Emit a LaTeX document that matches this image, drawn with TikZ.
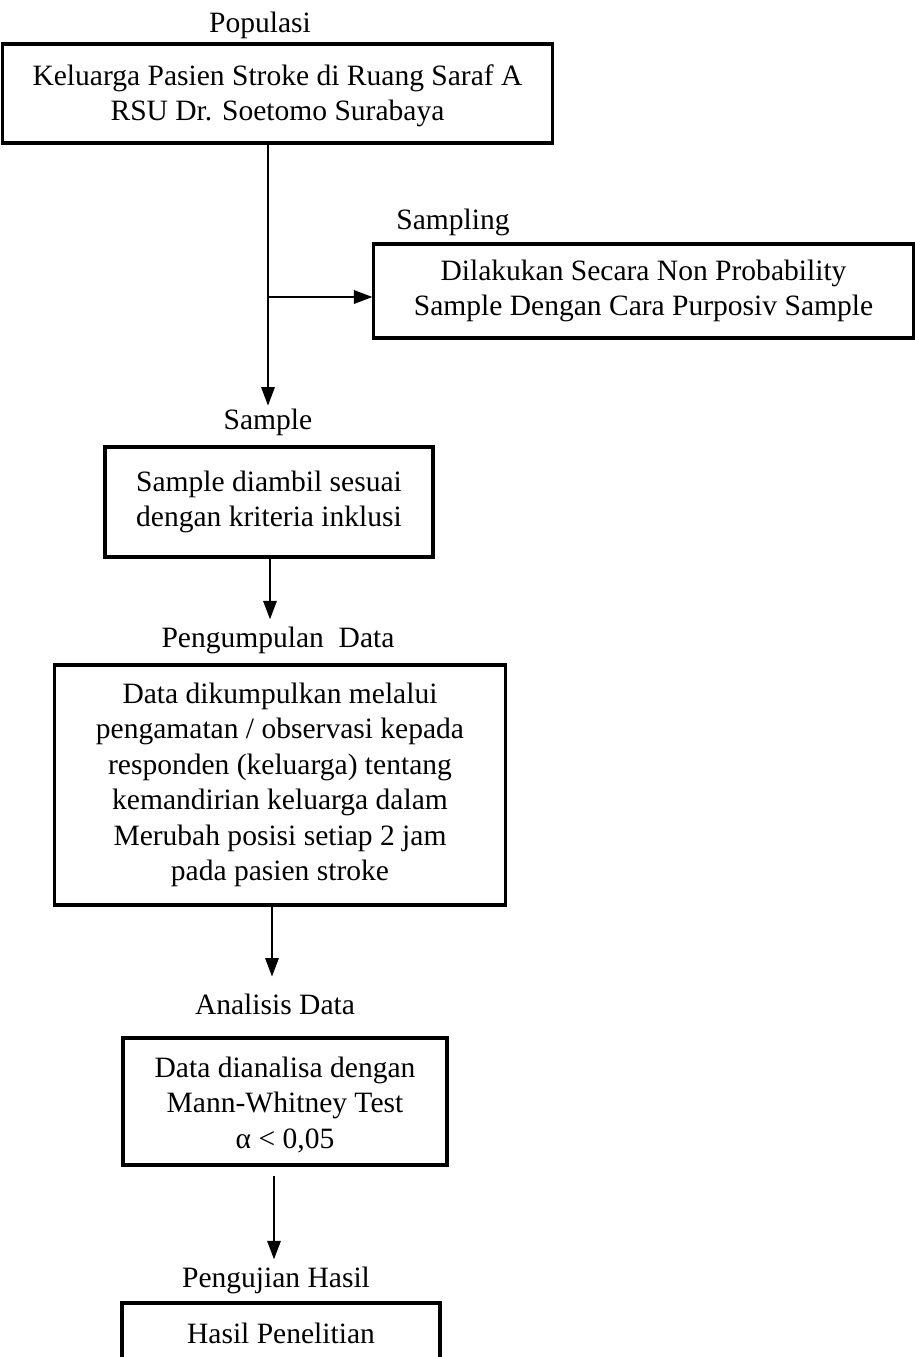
\documentclass[tikz,border=0pt]{standalone}
\usepackage{fontspec}
\setmainfont{Liberation Serif}
\usetikzlibrary{arrows.meta}

\begin{document}
\begin{tikzpicture}[
        x=0.025cm, y=-0.025cm, >={Triangle[length=4.6mm, width=3.4mm]},
        every node/.style={font=\fontsize{21}{25.2}\selectfont, align=center, inner sep=0pt},
        box/.style={draw, line width=2.2pt},
        flow/.style={->, line width=0.9pt}
      ]
        \clip (0,0) rectangle (915,1357);
        \node (pop) at (260,25) {Populasi};
        \node[box, minimum width=13.725cm, minimum height=2.475cm] (popbox) at (277.5,93.5)
          {\\[-0.25cm]Keluarga Pasien Stroke di Ruang Saraf A\\RSU Dr. Soetomo Surabaya};
        \node (samp) at (453,222) {Sampling};
        \node[box, minimum width=13.475cm, minimum height=2.35cm] (sampbox) at (643.5,291)
          {Dilakukan Secara Non Probability\\Sample Dengan Cara Purposiv Sample};
        \node (sample) at (268,422) {Sample};
        \node[box, minimum width=8.2cm, minimum height=2.75cm] (samplebox) at (269,502)
          {Sample diambil sesuai\\dengan kriteria inklusi};
        \node (kumpul) at (278,640) {Pengumpulan~ Data};
        \node[box, minimum width=11.25cm, minimum height=6cm] (databox) at (280,785)
          {Data dikumpulkan melalui\\pengamatan / observasi kepada\\responden (keluarga) tentang\\kemandirian keluarga dalam\\Merubah posisi setiap 2 jam\\pada pasien stroke};
        \node (analisis) at (275,1004) {Analisis Data};
        \node[box, minimum width=8.1cm, minimum height=3.175cm] (analbox) at (285,1101.5)
          {\\[-0.2cm]Data dianalisa dengan\\Mann-Whitney Test\\α < 0,05};
        \node (uji) at (276,1280) {Pengujian Hasil};
        \node[box, minimum width=7.95cm, minimum height=1.5cm] (hasilbox) at (281,1333)
          {Hasil Penelitian};
        \coordinate (branch) at (268,297);
        \draw[flow] (popbox.south -| sample) -- ([yshift=2pt]sample.north);
        \draw[flow] (branch) -- (sampbox.west |- branch);
        \draw[flow] (samplebox.south -| 270,0) -- ([yshift=5pt]kumpul.north -| 270,0);
        \draw[flow] (databox.south -| 272,0) -- ([yshift=12pt]analisis.north -| 272,0);
        \draw[flow, shorten <=7pt] (analbox.south -| 274,0) -- ([yshift=5pt]uji.north -| 274,0);
      \end{tikzpicture}
\end{document}
